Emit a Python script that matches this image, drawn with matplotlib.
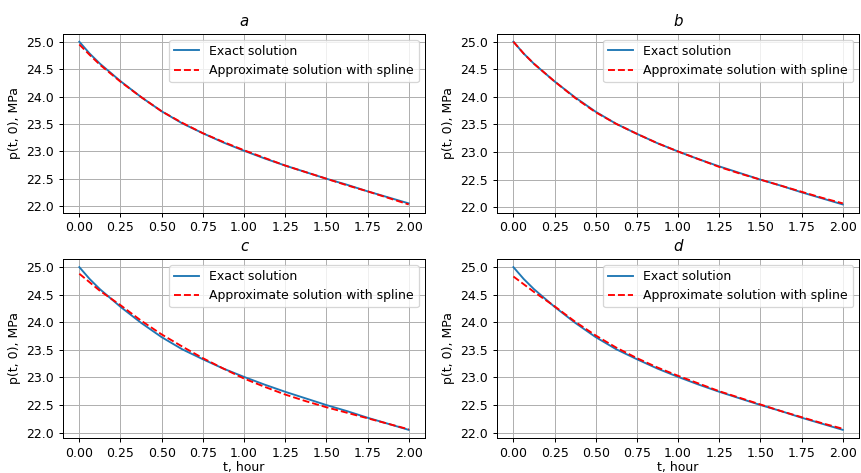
import matplotlib
matplotlib.use("Agg")
import matplotlib.pyplot as plt
import numpy as np

# time grid, hours
t = [0.0, 0.0625, 0.125, 0.25, 0.375, 0.5, 0.625, 0.75, 0.875, 1.0,
     1.125, 1.25, 1.375, 1.5, 1.625, 1.75, 1.875, 2.0]

# exact pressure p(t, 0), MPa
exact = [25.00, 24.785, 24.60, 24.28, 23.99, 23.73, 23.51, 23.33, 23.16, 23.01,
         22.87, 22.74, 22.62, 22.50, 22.39, 22.27, 22.16, 22.05]

# spline approximations for the four cases
approx_a = [24.95, 24.76, 24.58, 24.27, 23.99, 23.73, 23.52, 23.33, 23.17, 23.02,
            22.88, 22.74, 22.62, 22.50, 22.38, 22.27, 22.15, 22.03]
approx_b = [25.00, 24.785, 24.60, 24.28, 23.98, 23.72, 23.51, 23.33, 23.16, 23.01,
            22.87, 22.73, 22.61, 22.50, 22.39, 22.28, 22.17, 22.07]
approx_c = [24.88, 24.725, 24.57, 24.31, 24.03, 23.78, 23.56, 23.35, 23.16, 22.98,
            22.83, 22.69, 22.57, 22.46, 22.36, 22.26, 22.16, 22.06]
approx_d = [24.83, 24.69, 24.55, 24.29, 24.01, 23.76, 23.54, 23.35, 23.18, 23.03,
            22.89, 22.75, 22.63, 22.51, 22.39, 22.28, 22.17, 22.07]

titles = ["a", "b", "c", "d"]
approx = [approx_a, approx_b, approx_c, approx_d]

dpi = 90
fig, axs = plt.subplots(2, 2, figsize=(861 / dpi, 473 / dpi), dpi=dpi)
plt.subplots_adjust(left=0.073, right=0.998, top=0.929, bottom=0.074,
                    wspace=0.198, hspace=0.259)

for i, ax in enumerate(axs.flat):
    ax.plot(t, exact, color="tab:blue", label="Exact solution")
    ax.plot(t, approx[i], "r--", label="Approximate solution with spline")
    ax.set_title(titles[i], fontstyle="italic")
    ax.set_ylabel("p(t, 0), MPa")
    ax.set_xticks(np.arange(0, 2.01, 0.25))
    ax.set_yticks(np.arange(22.0, 25.01, 0.5))
    ax.grid(True)
    ax.legend(loc="upper right")
    if i >= 2:
        ax.set_xlabel("t, hour", labelpad=1)

plt.savefig("out.png", dpi=dpi)
